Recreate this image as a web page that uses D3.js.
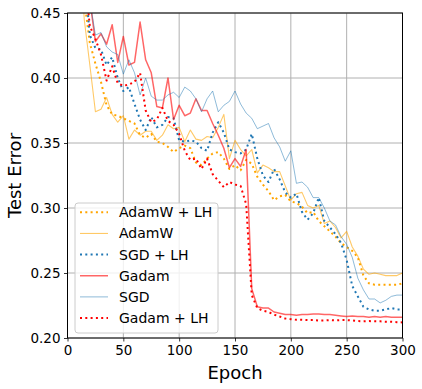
<!DOCTYPE html>
<html><head><meta charset="utf-8">
<script src="https://cdn.jsdelivr.net/npm/d3@7/dist/d3.min.js"></script>
<style>body{margin:0;background:#fff}svg{display:block;font-family:"DejaVu Sans",sans-serif}</style>
</head><body><svg id="c" width="422" height="389"></svg>
<script>
const epochs = d3.range(10, 301, 5);
const adamwLH = [0.53,0.46,0.427,0.411,0.397,0.379,0.372,0.371,0.369,0.367,0.365,0.356,0.354,0.357,0.351,0.350,0.347,0.343,0.346,0.348,0.346,0.335,0.333,0.338,0.342,0.343,0.338,0.330,0.333,0.329,0.337,0.334,0.324,0.318,0.313,0.306,0.309,0.310,0.305,0.304,0.301,0.296,0.297,0.290,0.286,0.282,0.278,0.273,0.270,0.267,0.262,0.248,0.242,0.241,0.241,0.241,0.241,0.241,0.242];
const adamw = [0.52,0.445,0.41,0.374,0.376,0.385,0.372,0.366,0.371,0.353,0.360,0.356,0.359,0.359,0.352,0.356,0.364,0.361,0.362,0.351,0.360,0.353,0.352,0.355,0.354,0.362,0.372,0.338,0.352,0.345,0.340,0.345,0.327,0.333,0.331,0.328,0.328,0.317,0.306,0.311,0.312,0.302,0.300,0.302,0.288,0.290,0.285,0.277,0.282,0.270,0.263,0.253,0.249,0.250,0.249,0.248,0.248,0.248,0.250];
const sgdLH = [0.55,0.48,0.433,0.423,0.422,0.410,0.416,0.400,0.390,0.393,0.380,0.368,0.360,0.370,0.362,0.364,0.370,0.369,0.352,0.351,0.352,0.351,0.346,0.344,0.358,0.366,0.358,0.345,0.343,0.342,0.345,0.357,0.338,0.325,0.320,0.330,0.322,0.312,0.308,0.311,0.297,0.291,0.296,0.308,0.290,0.285,0.280,0.273,0.260,0.240,0.232,0.224,0.222,0.221,0.221,0.222,0.223,0.222,0.222];
const gadam = [0.60,0.52,0.46,0.428,0.434,0.426,0.441,0.412,0.432,0.410,0.412,0.443,0.414,0.404,0.378,0.377,0.400,0.368,0.379,0.371,0.373,0.384,0.375,0.375,0.365,0.356,0.346,0.331,0.338,0.332,0.345,0.238,0.224,0.223,0.223,0.220,0.219,0.218,0.218,0.2175,0.218,0.218,0.2185,0.2185,0.218,0.218,0.2175,0.217,0.2165,0.217,0.2165,0.2165,0.216,0.2165,0.216,0.2165,0.216,0.216,0.216];
const sgd = [0.56,0.50,0.46,0.433,0.435,0.424,0.420,0.418,0.403,0.414,0.404,0.387,0.400,0.386,0.383,0.383,0.387,0.389,0.385,0.393,0.390,0.384,0.374,0.384,0.390,0.374,0.379,0.382,0.390,0.380,0.373,0.369,0.361,0.363,0.365,0.354,0.347,0.336,0.344,0.319,0.320,0.316,0.308,0.308,0.300,0.290,0.287,0.278,0.272,0.262,0.246,0.237,0.230,0.230,0.227,0.229,0.232,0.233,0.233];
const gadamLH = [0.58,0.48,0.44,0.43,0.418,0.398,0.409,0.396,0.394,0.395,0.397,0.404,0.375,0.366,0.368,0.377,0.367,0.364,0.357,0.344,0.337,0.338,0.330,0.338,0.326,0.321,0.316,0.320,0.318,0.317,0.303,0.233,0.223,0.221,0.220,0.218,0.2165,0.215,0.2145,0.214,0.214,0.2138,0.2138,0.2135,0.2135,0.2138,0.2135,0.2138,0.2138,0.2135,0.213,0.2128,0.213,0.2128,0.2128,0.2125,0.2125,0.2122,0.212];
const xTicks = [0,50,100,150,200,250,300];
const yTicks = [0.20,0.25,0.30,0.35,0.40,0.45];

const series = [
  {name:"AdamW + LH", vals:adamwLH, color:"#ffa500", width:2, dash:"2,3.3", op:1},
  {name:"AdamW", vals:adamw, color:"#ffa500", width:1.1, dash:null, op:0.6},
  {name:"SGD + LH", vals:sgdLH, color:"#1f77b4", width:2, dash:"2,3.3", op:1},
  {name:"Gadam", vals:gadam, color:"#ff0000", width:1.5, dash:null, op:0.6},
  {name:"SGD", vals:sgd, color:"#1f77b4", width:1, dash:null, op:0.5},
  {name:"Gadam + LH", vals:gadamLH, color:"#ff0000", width:2, dash:"2,3.3", op:1}
];

const svg = d3.select("#c");
const L=67.5, R=402.5, T=13, B=338;
const x = d3.scaleLinear().domain([0,300]).range([L,R]);
const y = d3.scaleLinear().domain([0.20,0.45]).range([B,T]);

svg.append("defs").append("clipPath").attr("id","clip")
  .append("rect").attr("x",L).attr("y",T).attr("width",R-L).attr("height",B-T);

// grid
const g = svg.append("g");
g.selectAll(".gx").data(xTicks).enter().append("line")
  .attr("x1",d=>x(d)).attr("x2",d=>x(d)).attr("y1",T).attr("y2",B)
  .attr("stroke","#b0b0b0").attr("stroke-width",1);
g.selectAll(".gy").data(yTicks).enter().append("line")
  .attr("y1",d=>y(d)).attr("y2",d=>y(d)).attr("x1",L).attr("x2",R)
  .attr("stroke","#b0b0b0").attr("stroke-width",1);

const line = d3.line().x((d,i)=>x(epochs[i])).y(d=>y(d));
const lg = svg.append("g").attr("clip-path","url(#clip)");
series.forEach(s=>{
  lg.append("path").attr("d",line(s.vals)).attr("fill","none")
    .attr("stroke",s.color).attr("stroke-width",s.width).attr("stroke-opacity",s.op)
    .attr("stroke-dasharray",s.dash).attr("stroke-linejoin","round");
});

// axes
const xa = svg.append("g").attr("transform",`translate(0,${B})`)
  .call(d3.axisBottom(x).tickValues(xTicks).tickSize(3.5).tickPadding(3.5).tickFormat(d3.format("d")));
const ya = svg.append("g").attr("transform",`translate(${L},0)`)
  .call(d3.axisLeft(y).tickValues(yTicks).tickSize(3.5).tickPadding(3.5).tickFormat(d3.format(".2f")));
[xa,ya].forEach(a=>{
  a.select(".domain").remove();
  a.selectAll("text").attr("font-size",13.5).attr("fill","#000").attr("font-family","DejaVu Sans");
  a.selectAll("line").attr("stroke","#000").attr("stroke-width",0.8);
});
svg.append("rect").attr("x",L).attr("y",T).attr("width",R-L).attr("height",B-T)
  .attr("fill","none").attr("stroke","#000").attr("stroke-width",1);

svg.append("text").attr("x",(L+R)/2).attr("y",379).attr("text-anchor","middle")
  .attr("font-size",18).text("Epoch");
svg.append("text").attr("transform",`translate(21,${(T+B)/2}) rotate(-90)`)
  .attr("text-anchor","middle").attr("font-size",18).text("Test Error");

// legend
const lgx=75, lgy=203, lgw=143, lgh=130;
svg.append("rect").attr("x",lgx).attr("y",lgy).attr("width",lgw).attr("height",lgh)
  .attr("rx",3).attr("fill","#fff").attr("fill-opacity",0.8).attr("stroke","#cccccc").attr("stroke-width",1);
series.forEach((s,i)=>{
  const yy = 212.3 + i*21.15;
  svg.append("line").attr("x1",80).attr("x2",108).attr("y1",yy).attr("y2",yy)
    .attr("stroke",s.color).attr("stroke-width",s.width).attr("stroke-opacity",s.op)
    .attr("stroke-dasharray",s.dash);
  svg.append("text").attr("x",119).attr("y",yy+5).attr("font-size",14).text(s.name);
});
</script></body></html>
